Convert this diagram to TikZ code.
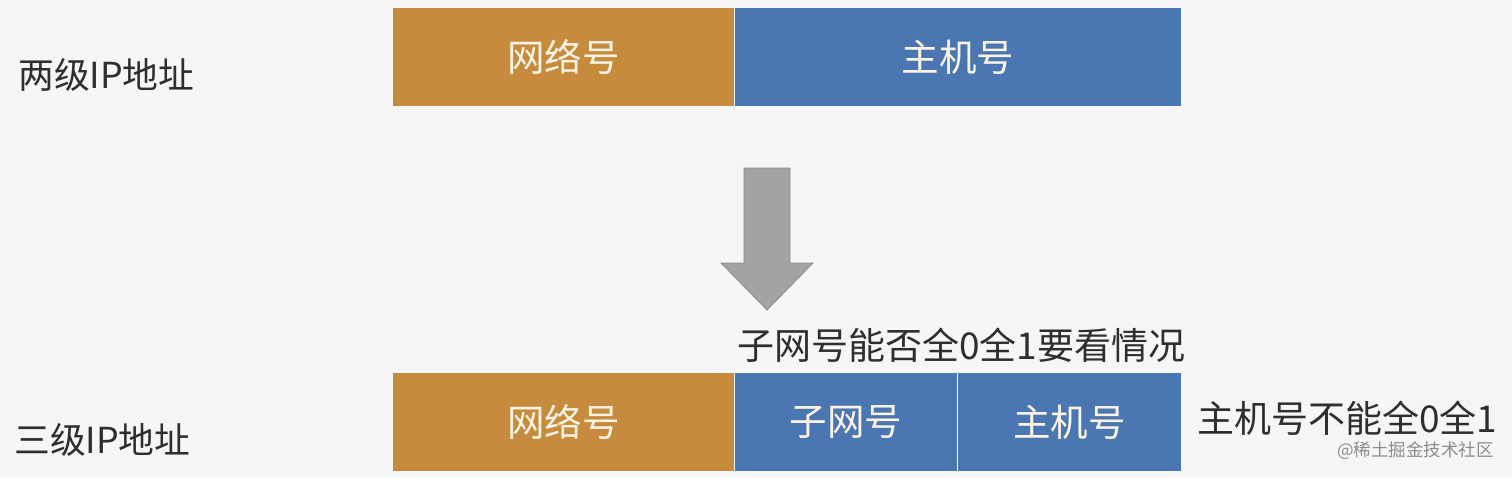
\documentclass[tikz,border=0pt]{standalone}
\usepackage{fontspec}
\setmainfont{Noto Sans CJK SC}
\newfontfamily\cjk{Noto Sans CJK SC}
\definecolor{bgc}{HTML}{F6F6F6}
\definecolor{orangebox}{HTML}{C68B3C}
\definecolor{bluebox}{HTML}{4A77B2}
\definecolor{arrowgray}{HTML}{A3A3A3}
\definecolor{txt}{HTML}{2E2E2E}
\definecolor{boxtxt}{HTML}{FBF3E4}
\tikzset{
  seg/.style={draw=none, minimum height=98pt, inner sep=0pt, text=boxtxt,
    font=\cjk\fontsize{37.5}{42}\selectfont},
  netseg/.style={seg, fill=orangebox},
  hostseg/.style={seg, fill=bluebox},
  label/.style={inner sep=0pt, text=txt, font=\cjk\fontsize{35.8}{40}\selectfont},
  note/.style={inner sep=0pt, text=txt, font=\cjk\fontsize{37}{42}\selectfont},
  wm/.style={inner sep=0pt, text=black!45, font=\cjk\fontsize{17.5}{20}\selectfont}
}
\begin{document}
\begin{tikzpicture}[x=1pt,y=-1pt]
\fill[bgc] (0,0) rectangle (1512,477);
\useasboundingbox (0,0) rectangle (1512,477);
% top row
\node[netseg, minimum width=341pt, anchor=north west] (net1) at (393,8) {网络号};
\node[hostseg, minimum width=446pt, anchor=north west] (host1) at (735,8) {主机号};
\node[label, anchor=west] (lab1) at (18,75) {两级IP地址};
% arrow
\draw[fill=arrowgray, draw=black!45, line width=0.8pt]
  (744,168) -- (790,168) -- (790,263) -- (813,263) -- (767,310) -- (721,263) -- (744,263) -- cycle;
% note
\node[note, anchor=west] (note1) at (737,345) {子网号能否全0全1要看情况};
% bottom row
\node[netseg, minimum width=341pt, anchor=north west] (net2) at (393,373) {网络号};
\node[hostseg, minimum width=222pt, anchor=north west] (sub2) at (735,373) {子网号};
\node[hostseg, minimum width=223pt, anchor=north west] (host2) at (958,373) {主机号};
\node[label, anchor=west] (lab2) at (14,440) {三级IP地址};
\node[note, anchor=west] (note2) at (1197,418) {主机号不能全0全1};
\node[wm, anchor=east] (wm) at (1494,451) {@稀土掘金技术社区};
\end{tikzpicture}
\end{document}
